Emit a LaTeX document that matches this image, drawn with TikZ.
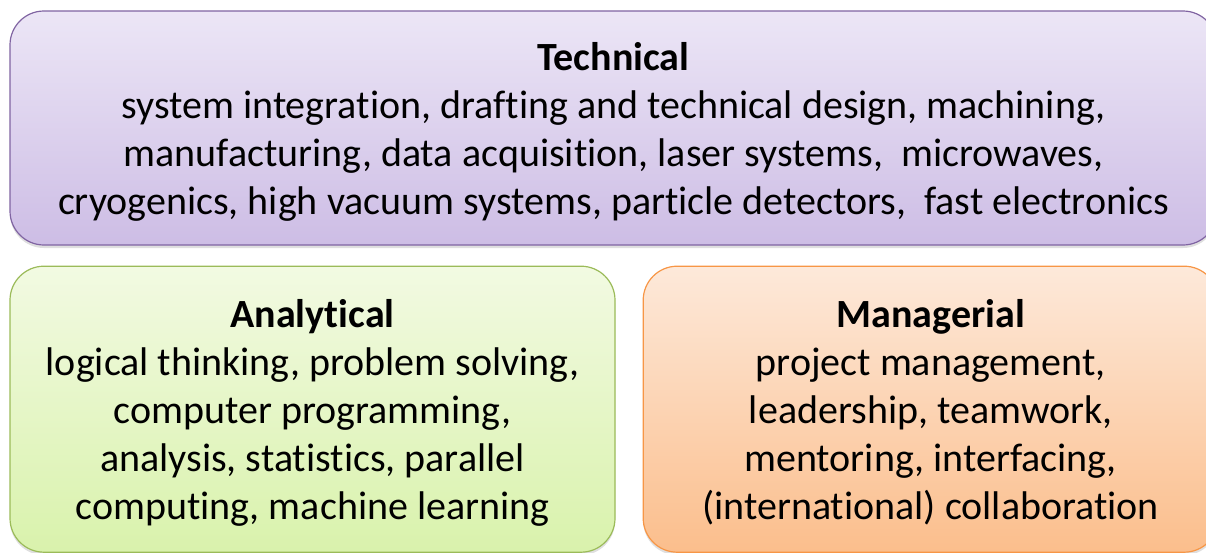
\documentclass[tikz,border=0pt]{standalone}
\usepackage{fontspec}
\setmainfont{Carlito}[Ligatures=NoCommon]
\usepackage{tikz}
\usetikzlibrary{positioning,shadows}

\definecolor{techline}{HTML}{8064A2}
\definecolor{techtop}{HTML}{ECE6F6}
\definecolor{techbot}{HTML}{CDBDE5}
\definecolor{analine}{HTML}{9BBB59}
\definecolor{anatop}{HTML}{F2FAE2}
\definecolor{anabot}{HTML}{D9F2AC}
\definecolor{manline}{HTML}{F79646}
\definecolor{mantop}{HTML}{FDE9DA}
\definecolor{manbot}{HTML}{FBBE8C}

% first line a little taller, so the text sits as low as in the original
\newcommand{\headline}[1]{\rule{0pt}{35pt}\textbf{#1}}

\begin{document}
\begin{tikzpicture}[
    every node/.style={rounded corners=34pt,align=center,inner sep=0pt,line width=1.2pt,
      font=\fontsize{40}{48}\selectfont,
      drop shadow={shadow xshift=0pt,shadow yshift=-3pt,opacity=0.25}},
    skillbox/.style={draw=#1line,top color=#1top,bottom color=#1bot}
  ]
    \useasboundingbox (0,0) rectangle (1206pt,-552pt);
    \node (tech) [skillbox=tech,minimum width=1207pt,minimum height=234pt] at (613.5pt,-128pt)
      {\headline{Technical}\\system integration, drafting and technical design, machining,\\
       manufacturing, data acquisition, laser systems,~ microwaves,\\
       cryogenics, high vacuum systems, particle detectors,~ fast electronics};
    \node (ana) [skillbox=ana,minimum width=605pt,minimum height=286pt,
      below right=20pt and 0pt of tech.south west]
      {\headline{Analytical}\\logical thinking, problem solving,\\computer programming,\\
       analysis, statistics, parallel\\computing, machine learning};
    \node (man) [skillbox=man,minimum width=575pt,minimum height=286pt,right=27pt of ana]
      {\headline{Managerial}\\project management,\\leadership, teamwork,\\
       mentoring, interfacing,\\(international) collaboration};
  \end{tikzpicture}
\end{document}
